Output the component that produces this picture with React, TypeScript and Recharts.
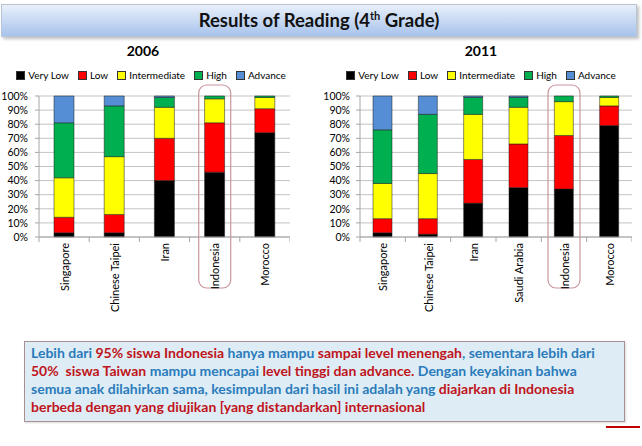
import * as React from "react";
import {
  BarChart,
  Bar,
  XAxis,
  YAxis,
  CartesianGrid,
  ReferenceArea,
} from "recharts";

const levels = ["Very Low", "Low", "Intermediate", "High", "Advance"];
const levelColors = ["#000000", "#ff0000", "#ffff00", "#00b050", "#558ed5"];
const yTicks = [0, 10, 20, 30, 40, 50, 60, 70, 80, 90, 100];

// 2006
const countries2006 = ["Singapore", "Chinese Taipei", "Iran", "Indonesia", "Morocco"];
const veryLow2006 = [3, 3, 40, 46, 74];
const low2006 = [11, 13, 30, 35, 17];
const intermediate2006 = [28, 41, 22, 17, 8];
const high2006 = [39, 36, 7, 2, 1];
const advance2006 = [19, 7, 1, 0, 0];

// 2011
const countries2011 = ["Singapore", "Chinese Taipei", "Iran", "Saudi Arabia", "Indonesia", "Morocco"];
const veryLow2011 = [3, 2, 24, 35, 34, 79];
const low2011 = [10, 11, 31, 31, 38, 14];
const intermediate2011 = [25, 32, 32, 26, 24, 6];
const high2011 = [38, 42, 12, 7, 4, 1];
const advance2011 = [24, 13, 1, 1, 0, 0];

const highlighted = "Indonesia";

const FONT = "Lato, 'Open Sans', sans-serif";
const BLUE = "#2b7bbb";
const RED = "#c0141c";

function buildRows(countries: string[], series: number[][]) {
  return countries.map((c, i) => {
    const row: any = { country: c };
    levels.forEach((lv, k) => {
      row[lv] = series[k][i];
    });
    return row;
  });
}

const CategoryTick = (props: any) => {
  const { x, y, payload, index, visibleTicksCount } = props;
  const half = payload?.offset ?? 0;
  const last = index === visibleTicksCount - 1;
  return (
    <g>
      <line x1={x - half} x2={x - half} y1={y} y2={y + 5} stroke="#a6a6a6" />
      {last && <line x1={x + half} x2={x + half} y1={y} y2={y + 5} stroke="#a6a6a6" />}
      <text
        x={x}
        y={y + 6}
        transform={`rotate(-90 ${x} ${y + 6})`}
        textAnchor="end"
        dominantBaseline="central"
        fontSize={11}
        fontFamily={FONT}
        fill="#000"
      >
        {payload.value}
      </text>
    </g>
  );
};

const HighlightBox = (p: any) => (
  <rect
    x={p.x + p.width / 2 - 16}
    y={p.y - 11}
    width={32}
    height={p.height + 62}
    rx={8}
    ry={8}
    fill="none"
    stroke="#c9959d"
    strokeWidth={1.2}
  />
);

function Legend({ center }: { center: number }) {
  return (
    <div
      style={{
        position: "absolute",
        left: center - 160,
        width: 320,
        top: 69,
        display: "flex",
        justifyContent: "center",
        gap: 9,
        fontFamily: FONT,
        fontSize: 10,
        color: "#000",
        whiteSpace: "nowrap",
      }}
    >
      {levels.map((lv, k) => (
        <span key={lv} style={{ display: "flex", alignItems: "center", gap: 3 }}>
          <span
            style={{
              width: 7,
              height: 7,
              background: levelColors[k],
              border: "0.5px solid #333",
              display: "inline-block",
            }}
          />
          {lv}
        </span>
      ))}
    </div>
  );
}

function YearChart({
  year,
  countries,
  series,
  left,
  width,
  yAxisWidth,
  tickMargin,
  barSize,
  titleCenter,
  legendCenter,
}: {
  year: string;
  countries: string[];
  series: number[][];
  left: number;
  width: number;
  yAxisWidth: number;
  tickMargin: number;
  barSize: number;
  titleCenter: number;
  legendCenter: number;
}) {
  const data = buildRows(countries, series);
  return (
    <>
      <div
        style={{
          position: "absolute",
          left: titleCenter - 60,
          width: 120,
          top: 42,
          textAlign: "center",
          fontFamily: FONT,
          fontWeight: 700,
          fontSize: 14,
          color: "#000",
        }}
      >
        {year}
      </div>
      <Legend center={legendCenter} />
      <div style={{ position: "absolute", left, top: 0 }}>
        <BarChart
          width={width}
          height={330}
          data={data}
          margin={{ top: 96, right: 0, bottom: 13, left: 0 }}
          barSize={barSize}
        >
          <CartesianGrid vertical={false} stroke="#c3c3c3" />
          <XAxis
            dataKey="country"
            interval={0}
            height={80}
            tickLine={false}
            tickSize={0}
            tickMargin={0}
            axisLine={{ stroke: "#a6a6a6" }}
            tick={<CategoryTick />}
          />
          <YAxis
            domain={[0, 100]}
            ticks={yTicks}
            interval={0}
            width={yAxisWidth}
            tickSize={4}
            tickMargin={tickMargin}
            tickFormatter={(v: number) => `${v}%`}
            tick={{ fontSize: 10.5, fill: "#000", fontFamily: FONT }}
            axisLine={{ stroke: "#a6a6a6" }}
            tickLine={{ stroke: "#a6a6a6" }}
          />
          <ReferenceArea
            x1={highlighted}
            x2={highlighted}
            y1={0}
            y2={100}
            ifOverflow="visible"
            shape={<HighlightBox />}
          />
          {levels.map((lv, k) => (
            <Bar
              key={lv}
              dataKey={lv}
              stackId="s"
              fill={levelColors[k]}
              stroke="#1a1a1a"
              strokeWidth={0.5}
              isAnimationActive={false}
            />
          ))}
        </BarChart>
      </div>
    </>
  );
}

export default function App() {
  return (
    <div
      style={{
        position: "absolute",
        left: 0,
        top: 0,
        width: 642,
        height: 446,
        background: "#fff",
        overflow: "hidden",
      }}
    >
      {/* banner */}
      <div
        style={{
          position: "absolute",
          left: 1,
          top: 4,
          width: 634,
          height: 31,
          background: "linear-gradient(#e8effa, #a7c3ec)",
          border: "1px solid #b9c5d6",
          boxShadow: "2px 2px 3px rgba(0,0,0,0.25)",
          textAlign: "center",
          lineHeight: "31px",
          fontFamily: FONT,
          fontWeight: 700,
          fontSize: 18.5,
          color: "#111",
        }}
      >
        Results of Reading (4<sup style={{ fontSize: 11, lineHeight: 0 }}>th</sup> Grade)
      </div>

      <YearChart
        year="2006"
        countries={countries2006}
        series={[veryLow2006, low2006, intermediate2006, high2006, advance2006]}
        left={0}
        width={290}
        yAxisWidth={39}
        tickMargin={7}
        barSize={20}
        titleCenter={143}
        legendCenter={151}
      />
      <YearChart
        year="2011"
        countries={countries2011}
        series={[veryLow2011, low2011, intermediate2011, high2011, advance2011]}
        left={310}
        width={322}
        yAxisWidth={50}
        tickMargin={6}
        barSize={19}
        titleCenter={481}
        legendCenter={481}
      />

      {/* note box */}
      <div
        style={{
          position: "absolute",
          left: 24,
          top: 341,
          width: 593,
          height: 77,
          background: "#deedf5",
          border: "1px solid #a89090",
          boxShadow: "1px 1px 2px rgba(0,0,0,0.15)",
          padding: "2px 0 0 6px",
          boxSizing: "content-box",
          fontFamily: FONT,
          fontWeight: 700,
          fontSize: 14,
          lineHeight: "18px",
          color: BLUE,
          whiteSpace: "nowrap",
        }}
      >
        Lebih dari <span style={{ color: RED }}>95% siswa Indonesia</span> hanya mampu{" "}
        <span style={{ color: RED }}>sampai level menengah</span>, sementara lebih dari
        <br />
        <span style={{ color: RED }}>50%&nbsp; siswa Taiwan</span> mampu mencapai{" "}
        <span style={{ color: RED }}>level tinggi dan advance.</span> Dengan keyakinan bahwa
        <br />
        semua anak dilahirkan sama, kesimpulan dari hasil ini adalah yang{" "}
        <span style={{ color: RED }}>diajarkan di Indonesia</span>
        <br />
        <span style={{ color: RED }}>berbeda dengan yang diujikan [yang distandarkan] internasional</span>
      </div>

      <div
        style={{
          position: "absolute",
          left: 606,
          top: 426,
          width: 34,
          height: 2,
          background: "#c00000",
        }}
      />
    </div>
  );
}
